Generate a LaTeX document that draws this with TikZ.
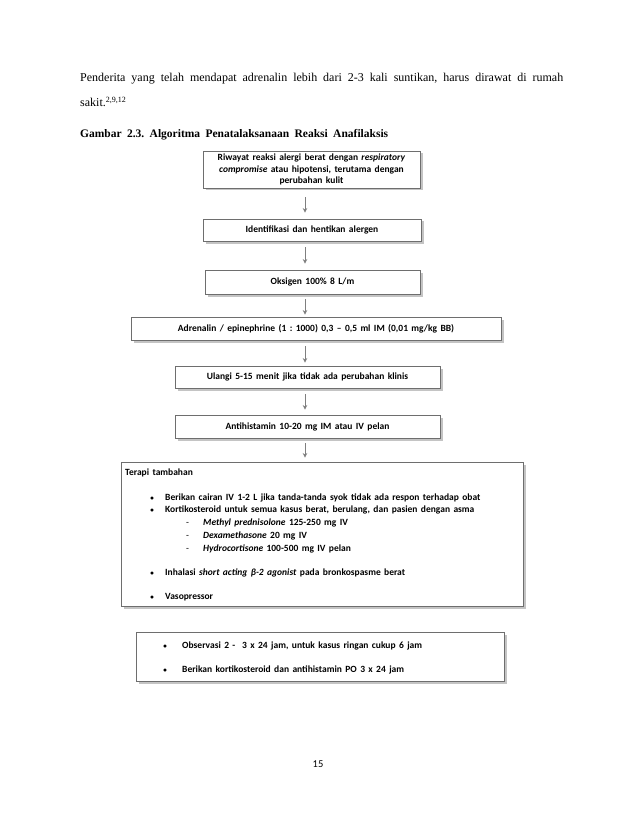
\documentclass[tikz,border=0pt]{standalone}
\usepackage{fontspec}
\setmainfont{Liberation Serif}
\newfontfamily\calfont{Carlito}
\usetikzlibrary{arrows.meta,shadows}
\frenchspacing
\definecolor{boxline}{HTML}{6E6E6E}
\definecolor{shadowgray}{HTML}{C4C4C4}
\definecolor{arrowgray}{HTML}{7F7F7F}
\newcommand{\boxfont}{\calfont\bfseries\fontsize{9.5}{11.5}\selectfont\spaceskip=3.4pt plus 1pt minus 0.5pt\relax}
\newcommand{\smallbul}{{\fontsize{7}{8}\selectfont\textbullet}}
\tikzset{
  flowbox/.style={draw=boxline, line width=0.9pt, fill=white, inner sep=0pt, align=center,
    drop shadow={shadow xshift=2.5pt, shadow yshift=-2.5pt, fill=shadowgray, opacity=1},
    font=\boxfont},
  flowarrow/.style={draw=arrowgray, line width=0.8pt, -{Stealth[length=4.5pt,width=4.5pt]}},
  boxtext/.style={anchor=base west, inner sep=0pt, font=\boxfont},
  bultext/.style={anchor=base, inner sep=0pt, font=\boxfont},
  bodytext/.style={anchor=base west, inner sep=0pt, font=\fontsize{12}{14}\selectfont},
}
\begin{document}
\begin{tikzpicture}[x=1pt,y=-1pt]
\useasboundingbox[fill=white] (0,0) rectangle (638,826);
% body text
\node[bodytext] (p1) at (80,82) {\makebox[483pt][s]{Penderita yang telah mendapat adrenalin lebih dari 2-3 kali suntikan, harus dirawat di rumah}};
\node[bodytext] (p2) at (80,107) {sakit.\textsuperscript{2,9,12}};
\node[bodytext, font=\bfseries\fontsize{11.5}{13}\selectfont] (cap) at (80,138) {\makebox[308pt][s]{Gambar 2.3. Algoritma Penatalaksanaan Reaksi Anafilaksis}};
% boxes
\node[flowbox, minimum width=217pt, minimum height=37pt] (b1) at (311.5,169.5)
  {Riwayat reaksi alergi berat dengan \textit{respiratory}\\ \textit{compromise} atau hipotensi, terutama dengan\\ perubahan kulit};
\node[flowbox, minimum width=218pt, minimum height=22pt] (b2) at (312,230) {Identifikasi dan hentikan alergen};
\node[flowbox, minimum width=215pt, minimum height=24pt] (b3) at (312.5,282) {Oksigen 100\% 8 L/m};
\node[flowbox, minimum width=370pt, minimum height=23pt] (b4) at (316,328.5) {Adrenalin / epinephrine (1 : 1000) 0,3 – 0,5 ml IM (0,01 mg/kg BB)};
\node[flowbox, minimum width=265pt, minimum height=22pt] (b5) at (307.5,377) {Ulangi 5-15 menit jika tidak ada perubahan klinis};
\node[flowbox, minimum width=265pt, minimum height=23pt] (b6) at (307.5,426.5) {Antihistamin 10-20 mg IM atau IV pelan};
\node[flowbox, minimum width=402pt, minimum height=144pt] (b7) at (322,534) {};
\node[flowbox, minimum width=368pt, minimum height=49pt] (b8) at (320,656.5) {};
% arrows
\coordinate (ax) at (305,0);
\draw[flowarrow, shorten <=9pt, shorten >=6pt] (b1.south -| ax) -- (b2.north -| ax);
\draw[flowarrow, shorten <=6pt, shorten >=6pt] (b2.south -| ax) -- (b3.north -| ax);
\draw[flowarrow, shorten <=5pt, shorten >=2pt] (b3.south -| ax) -- (b4.north -| ax);
\draw[flowarrow, shorten <=6pt, shorten >=3pt] (b4.south -| ax) -- (b5.north -| ax);
\draw[flowarrow, shorten <=6pt, shorten >=5pt] (b5.south -| ax) -- (b6.north -| ax);
\draw[flowarrow, shorten <=5pt, shorten >=4pt] (b6.south -| ax) -- (b7.north -| ax);
% terapi tambahan contents
\node[boxtext] (t0) at (125,475.5) {Terapi tambahan};
\node[bultext] (u1) at (152,500) {\smallbul};
\node[boxtext] (t1) at (165,500) {Berikan cairan IV 1-2 L jika tanda-tanda syok tidak ada respon terhadap obat};
\node[bultext] (u2) at (152,512) {\smallbul};
\node[boxtext] (t2) at (165,512) {Kortikosteroid untuk semua kasus berat, berulang, dan pasien dengan asma};
\node[boxtext, font=\calfont\fontsize{9.5}{11}\selectfont] (d1) at (186,525) {-};
\node[boxtext] (s1) at (203,525) {\textit{Methyl prednisolone} 125-250 mg IV};
\node[boxtext, font=\calfont\fontsize{9.5}{11}\selectfont] (d2) at (186,538) {-};
\node[boxtext] (s2) at (203,538) {\textit{Dexamethasone} 20 mg IV};
\node[boxtext, font=\calfont\fontsize{9.5}{11}\selectfont] (d3) at (186,551) {-};
\node[boxtext] (s3) at (203,551) {\textit{Hydrocortisone} 100-500 mg IV pelan};
\node[bultext] (u3) at (152,575) {\smallbul};
\node[boxtext] (t3) at (165,575) {Inhalasi \textit{short acting β-2 agonist} pada bronkospasme berat};
\node[bultext] (u4) at (152,599) {\smallbul};
\node[boxtext] (t4) at (165,599) {Vasopressor};
% observasi contents
\node[bultext] (u5) at (165,648) {\smallbul};
\node[boxtext] (o1) at (182,648) {Observasi 2 - \ 3 x 24 jam, untuk kasus ringan cukup 6 jam};
\node[bultext] (u6) at (165,672) {\smallbul};
\node[boxtext] (o2) at (182,672) {Berikan kortikosteroid dan antihistamin PO 3 x 24 jam};
% page number
\node[inner sep=0pt, font=\calfont\fontsize{10.5}{12}\selectfont] (pg) at (318,764) {15};
\end{tikzpicture}
\end{document}
